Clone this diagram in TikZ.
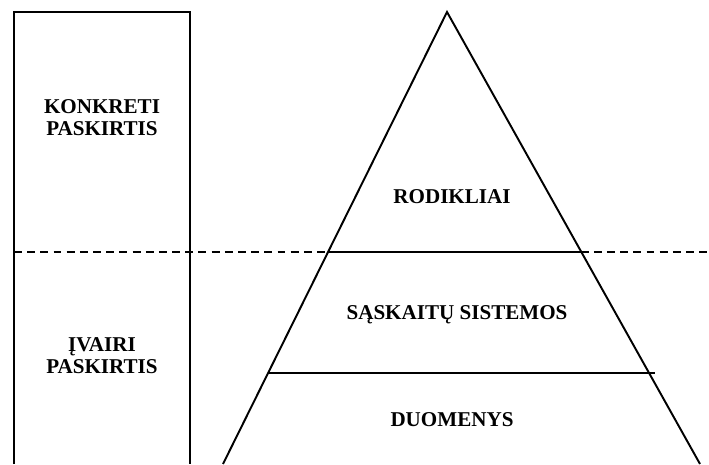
\documentclass[tikz,border=0pt]{standalone}
\usepackage{fontspec}
\setmainfont{Liberation Serif}
\usepackage{tikz}

\tikzset{
    label/.style={font=\fontsize{12}{12.5}\selectfont\bfseries, align=center},
    line/.style={line width=1.1pt}
}

\begin{document}
\begin{tikzpicture}[x=0.02cm, y=0.02cm]
    \useasboundingbox (0,0) rectangle (709,464);
    \draw[line] (14,0) -- (14,452) -- (190,452) -- (190,0);
    \draw[line, dash pattern=on 4.5pt off 3pt] (14,212) -- (709,212);
    \draw[line] (223,0) -- (447,452) -- (700,0);
    \draw[line] (329,212) -- (581,212);
    \draw[line] (268,91) -- (655,91);
    \node[label] (konkreti) at (102,346) {KONKRETI\\PASKIRTIS};
    \node[label] (ivairi) at (102,108) {ĮVAIRI\\PASKIRTIS};
    \node[label] (rodikliai) at (452,267) {RODIKLIAI};
    \node[label] (saskaitu) at (457,149) {SĄSKAITŲ SISTEMOS};
    \node[label] (duomenys) at (452,44) {DUOMENYS};
\end{tikzpicture}
\end{document}
